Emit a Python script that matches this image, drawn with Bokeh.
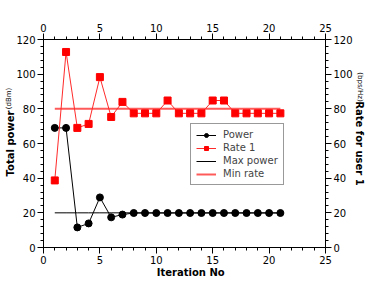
from bokeh.plotting import figure
from bokeh.models import (LinearAxis, Range1d, Legend, LegendItem, SingleIntervalTicker,
                          FixedTicker, ColumnDataSource)
from bokeh.embed import file_html
from bokeh.resources import INLINE

iterations = list(range(1, 22))
power = [69, 69, 11.6, 13.9, 28.9, 17.4, 19.0, 19.9, 19.9, 19.9, 19.9, 19.9, 19.9,
         19.9, 19.9, 19.9, 19.9, 19.9, 19.9, 19.9, 19.9]
rate1 = [38.7, 112.8, 69, 71.3, 98.3, 75.3, 84.0, 77.4, 77.4, 77.4, 84.8, 77.4, 77.4,
         77.4, 84.8, 84.8, 77.4, 77.4, 77.4, 77.4, 77.4]
max_power = [20] * 21
min_rate = [80] * 21

x_title = "Iteration No"
left_title = "Total power"
left_unit = "(dBm)"
right_title = "Rate for user 1"
right_unit = "(bps/Hz)"

FONT = "DejaVu Sans"

p = figure(width=368, height=287, x_range=Range1d(0, 25), y_range=Range1d(0, 120),
           output_backend="svg", toolbar_location=None,
           min_border_left=43, min_border_right=43, min_border_top=39, min_border_bottom=40)
p.grid.visible = False
p.outline_line_color = None
p.background_fill_color = "white"

def style_axis(ax, interval, nminor):
    ax.ticker = SingleIntervalTicker(interval=interval, num_minor_ticks=nminor)
    ax.major_tick_in = 0
    ax.major_tick_out = 6
    ax.minor_tick_in = 0
    ax.minor_tick_out = 3
    ax.axis_line_color = "black"
    ax.major_tick_line_color = "black"
    ax.minor_tick_line_color = "black"
    ax.major_label_text_font = FONT
    ax.major_label_text_font_size = "10px"
    ax.major_label_text_color = "black"
    ax.major_label_standoff = 2
    ax.axis_label = None

style_axis(p.xaxis[0], 5, 5)
style_axis(p.yaxis[0], 20, 5)
top = LinearAxis()
style_axis(top, 5, 5)
right = LinearAxis()
style_axis(right, 20, 5)
p.add_layout(top, "above")
p.add_layout(right, "right")

def title_axis(pos, label, size, bold, orient, axis_label=None, standoff=0):
    ax = LinearAxis(ticker=FixedTicker(ticks=[pos], minor_ticks=[]),
                    major_label_overrides={pos: label})
    ax.axis_line_color = None
    ax.major_tick_line_color = None
    ax.minor_tick_line_color = None
    ax.major_tick_out = 0
    ax.major_tick_in = 0
    ax.minor_tick_out = 0
    ax.minor_tick_in = 0
    ax.major_label_standoff = 0
    ax.major_label_text_font = FONT
    ax.major_label_text_font_size = size
    ax.major_label_text_font_style = "bold" if bold else "normal"
    ax.major_label_text_color = "black"
    if orient is not None:
        ax.major_label_orientation = orient
    if axis_label is not None:
        ax.axis_label = axis_label
        ax.axis_label_text_font = FONT
        ax.axis_label_text_font_size = "10px"
        ax.axis_label_text_font_style = "bold"
        ax.axis_label_text_color = "black"
        ax.axis_label_standoff = standoff
        ax.axis_label_orientation = "vertical"
    return ax

p.add_layout(title_axis(13.05, x_title, "10px", True, None), "below")
p.add_layout(title_axis(86, left_unit, "7px", False, "vertical", left_title, -13), "left")
p.add_layout(title_axis(92.6, right_unit, "7px", False, "vertical", right_title, -13), "right")

src = ColumnDataSource(dict(x=iterations, power=power, rate=rate1, maxp=max_power, minr=min_rate))

r_maxp = p.line("x", "maxp", source=src, line_color="black", line_width=1)
r_minr = p.line("x", "minr", source=src, line_color="#ff5a5a", line_width=2)
r_pl = p.line("x", "power", source=src, line_color="black", line_width=1)
r_pm = p.scatter("x", "power", source=src, marker="circle", size=7, fill_color="black", line_color="black")
r_rl = p.line("x", "rate", source=src, line_color="#ff2a2a", line_width=1)
r_rm = p.scatter("x", "rate", source=src, marker="square", size=7, fill_color="#ff0000", line_color="#ff0000")

leg = Legend(items=[
    LegendItem(label="Power", renderers=[r_pl, r_pm]),
    LegendItem(label="Rate 1", renderers=[r_rl, r_rm]),
    LegendItem(label="Max power", renderers=[r_maxp]),
    LegendItem(label="Min rate", renderers=[r_minr]),
], location=(147, 62))
leg.label_text_font = FONT
leg.label_text_font_size = "10px"
leg.label_height = 10
leg.glyph_height = 10
leg.glyph_width = 20
leg.spacing = 2
leg.padding = 5
leg.margin = 0
leg.label_standoff = 7
leg.border_line_color = "#333333"
leg.border_line_width = 1
leg.background_fill_alpha = 1
p.add_layout(leg, "center")

open("out.html", "w").write(file_html(p, INLINE))
